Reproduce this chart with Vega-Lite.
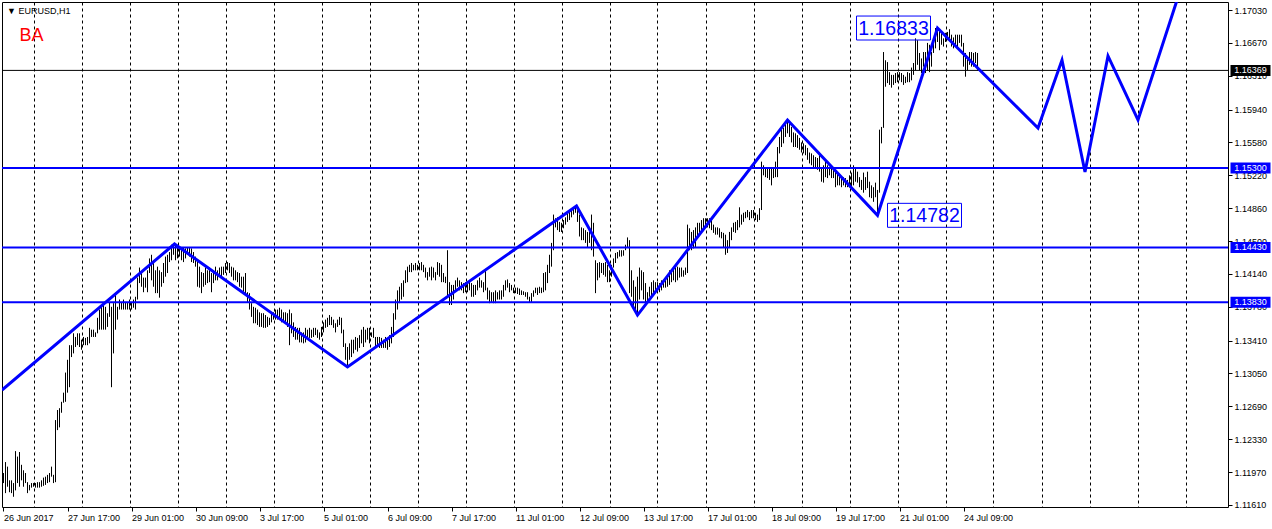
{
"$schema": "https://vega.github.io/schema/vega-lite/v6.json",
"width": 1226, "height": 505,
"autosize": {"type": "none"},
"padding": {"left": 2, "top": 2, "right": 44, "bottom": 22},
"background": "#FFFFFF",
"config": {"view": {"stroke": "#000000", "strokeWidth": 1}, "font": "Liberation Sans"},
"title": {"text": "▼ EURUSD,H1", "subtitle": "\u200b\u2002\u2009BA", "anchor": "start", "frame": "group", "orient": "top", "offset": 0, "dx": 5, "dy": 43, "font": "Liberation Sans", "fontSize": 9, "fontWeight": "normal", "color": "#000000", "subtitleFont": "Liberation Sans", "subtitleFontSize": 18, "subtitleColor": "#FF0000", "subtitlePadding": 11},
"datasets": {
"bars": [
{"i":0,"h":1.1196,"l":1.1185},{"i":1,"h":1.1208,"l":1.1174},{"i":2,"h":1.1203,"l":1.1181},{"i":3,"h":1.1188,"l":1.1175},{"i":4,"h":1.1188,"l":1.1174},{"i":5,"h":1.1185,"l":1.1170},{"i":6,"h":1.1220,"l":1.1177},{"i":7,"h":1.1214,"l":1.1185},{"i":8,"h":1.1219,"l":1.1181},{"i":9,"h":1.1205,"l":1.1188},
{"i":10,"h":1.1199,"l":1.1181},{"i":11,"h":1.1196,"l":1.1185},{"i":12,"h":1.1186,"l":1.1174},{"i":13,"h":1.1183,"l":1.1177},{"i":14,"h":1.1185,"l":1.1180},{"i":15,"h":1.1185,"l":1.1181},{"i":16,"h":1.1185,"l":1.1180},{"i":17,"h":1.1186,"l":1.1180},{"i":18,"h":1.1186,"l":1.1180},{"i":19,"h":1.1188,"l":1.1181},
{"i":20,"h":1.1191,"l":1.1182},{"i":21,"h":1.1192,"l":1.1183},{"i":22,"h":1.1194,"l":1.1185},{"i":23,"h":1.1196,"l":1.1186},{"i":24,"h":1.1203,"l":1.1192},{"i":25,"h":1.1194,"l":1.1185},{"i":26,"h":1.1254,"l":1.1186},{"i":27,"h":1.1265,"l":1.1243},{"i":28,"h":1.1267,"l":1.1246},{"i":29,"h":1.1274,"l":1.1262},
{"i":30,"h":1.1284,"l":1.1273},{"i":31,"h":1.1306,"l":1.1274},{"i":32,"h":1.1320,"l":1.1284},{"i":33,"h":1.1336,"l":1.1290},{"i":34,"h":1.1336,"l":1.1323},{"i":35,"h":1.1349,"l":1.1327},{"i":36,"h":1.1345,"l":1.1334},{"i":37,"h":1.1349,"l":1.1336},{"i":38,"h":1.1349,"l":1.1334},{"i":39,"h":1.1342,"l":1.1331},
{"i":40,"h":1.1345,"l":1.1336},{"i":41,"h":1.1344,"l":1.1336},{"i":42,"h":1.1345,"l":1.1336},{"i":43,"h":1.1355,"l":1.1338},{"i":44,"h":1.1353,"l":1.1345},{"i":45,"h":1.1353,"l":1.1345},{"i":46,"h":1.1350,"l":1.1345},{"i":47,"h":1.1366,"l":1.1349},{"i":48,"h":1.1375,"l":1.1353},{"i":49,"h":1.1378,"l":1.1353},
{"i":50,"h":1.1382,"l":1.1353},{"i":51,"h":1.1378,"l":1.1353},{"i":52,"h":1.1371,"l":1.1356},{"i":53,"h":1.1383,"l":1.1367},{"i":54,"h":1.1378,"l":1.1290},{"i":55,"h":1.1382,"l":1.1327},{"i":56,"h":1.1393,"l":1.1353},{"i":57,"h":1.1378,"l":1.1364},{"i":58,"h":1.1386,"l":1.1375},{"i":59,"h":1.1383,"l":1.1375},
{"i":60,"h":1.1386,"l":1.1375},{"i":61,"h":1.1383,"l":1.1375},{"i":62,"h":1.1383,"l":1.1375},{"i":63,"h":1.1386,"l":1.1375},{"i":64,"h":1.1383,"l":1.1375},{"i":65,"h":1.1386,"l":1.1377},{"i":66,"h":1.1389,"l":1.1375},{"i":67,"h":1.1410,"l":1.1386},{"i":68,"h":1.1421,"l":1.1404},{"i":69,"h":1.1415,"l":1.1400},
{"i":70,"h":1.1410,"l":1.1394},{"i":71,"h":1.1410,"l":1.1399},{"i":72,"h":1.1418,"l":1.1394},{"i":73,"h":1.1431,"l":1.1415},{"i":74,"h":1.1435,"l":1.1407},{"i":75,"h":1.1427,"l":1.1400},{"i":76,"h":1.1418,"l":1.1393},{"i":77,"h":1.1422,"l":1.1393},{"i":78,"h":1.1418,"l":1.1388},{"i":79,"h":1.1416,"l":1.1400},
{"i":80,"h":1.1426,"l":1.1404},{"i":81,"h":1.1433,"l":1.1411},{"i":82,"h":1.1435,"l":1.1415},{"i":83,"h":1.1438,"l":1.1427},{"i":84,"h":1.1446,"l":1.1429},{"i":85,"h":1.1447,"l":1.1435},{"i":86,"h":1.1446,"l":1.1429},{"i":87,"h":1.1443,"l":1.1431},{"i":88,"h":1.1443,"l":1.1433},{"i":89,"h":1.1442,"l":1.1429},
{"i":90,"h":1.1443,"l":1.1427},{"i":91,"h":1.1442,"l":1.1431},{"i":92,"h":1.1443,"l":1.1435},{"i":93,"h":1.1443,"l":1.1433},{"i":94,"h":1.1442,"l":1.1427},{"i":95,"h":1.1438,"l":1.1426},{"i":96,"h":1.1433,"l":1.1422},{"i":97,"h":1.1429,"l":1.1400},{"i":98,"h":1.1422,"l":1.1399},{"i":99,"h":1.1416,"l":1.1393},
{"i":100,"h":1.1415,"l":1.1400},{"i":101,"h":1.1421,"l":1.1402},{"i":102,"h":1.1418,"l":1.1404},{"i":103,"h":1.1421,"l":1.1405},{"i":104,"h":1.1415,"l":1.1394},{"i":105,"h":1.1418,"l":1.1404},{"i":106,"h":1.1422,"l":1.1407},{"i":107,"h":1.1418,"l":1.1407},{"i":108,"h":1.1421,"l":1.1411},{"i":109,"h":1.1422,"l":1.1411},
{"i":110,"h":1.1422,"l":1.1413},{"i":111,"h":1.1426,"l":1.1415},{"i":112,"h":1.1427,"l":1.1418},{"i":113,"h":1.1426,"l":1.1415},{"i":114,"h":1.1422,"l":1.1411},{"i":115,"h":1.1421,"l":1.1407},{"i":116,"h":1.1418,"l":1.1407},{"i":117,"h":1.1416,"l":1.1405},{"i":118,"h":1.1415,"l":1.1400},{"i":119,"h":1.1411,"l":1.1399},
{"i":120,"h":1.1411,"l":1.1393},{"i":121,"h":1.1415,"l":1.1391},{"i":122,"h":1.1394,"l":1.1383},{"i":123,"h":1.1393,"l":1.1375},{"i":124,"h":1.1382,"l":1.1367},{"i":125,"h":1.1378,"l":1.1360},{"i":126,"h":1.1377,"l":1.1360},{"i":127,"h":1.1375,"l":1.1358},{"i":128,"h":1.1372,"l":1.1356},{"i":129,"h":1.1371,"l":1.1356},
{"i":130,"h":1.1371,"l":1.1355},{"i":131,"h":1.1369,"l":1.1355},{"i":132,"h":1.1367,"l":1.1356},{"i":133,"h":1.1366,"l":1.1358},{"i":134,"h":1.1372,"l":1.1361},{"i":135,"h":1.1372,"l":1.1364},{"i":136,"h":1.1375,"l":1.1364},{"i":137,"h":1.1375,"l":1.1364},{"i":138,"h":1.1377,"l":1.1366},{"i":139,"h":1.1375,"l":1.1361},
{"i":140,"h":1.1372,"l":1.1361},{"i":141,"h":1.1372,"l":1.1360},{"i":142,"h":1.1371,"l":1.1356},{"i":143,"h":1.1375,"l":1.1336},{"i":144,"h":1.1371,"l":1.1349},{"i":145,"h":1.1361,"l":1.1345},{"i":146,"h":1.1356,"l":1.1342},{"i":147,"h":1.1355,"l":1.1342},{"i":148,"h":1.1355,"l":1.1339},{"i":149,"h":1.1350,"l":1.1339},
{"i":150,"h":1.1350,"l":1.1338},{"i":151,"h":1.1355,"l":1.1339},{"i":152,"h":1.1353,"l":1.1342},{"i":153,"h":1.1355,"l":1.1344},{"i":154,"h":1.1353,"l":1.1344},{"i":155,"h":1.1355,"l":1.1345},{"i":156,"h":1.1355,"l":1.1347},{"i":157,"h":1.1353,"l":1.1344},{"i":158,"h":1.1350,"l":1.1342},{"i":159,"h":1.1356,"l":1.1345},
{"i":160,"h":1.1361,"l":1.1350},{"i":161,"h":1.1364,"l":1.1355},{"i":162,"h":1.1366,"l":1.1356},{"i":163,"h":1.1369,"l":1.1358},{"i":164,"h":1.1367,"l":1.1358},{"i":165,"h":1.1364,"l":1.1355},{"i":166,"h":1.1360,"l":1.1350},{"i":167,"h":1.1364,"l":1.1356},{"i":168,"h":1.1367,"l":1.1358},{"i":169,"h":1.1366,"l":1.1349},
{"i":170,"h":1.1353,"l":1.1334},{"i":171,"h":1.1338,"l":1.1320},{"i":172,"h":1.1334,"l":1.1312},{"i":173,"h":1.1338,"l":1.1320},{"i":174,"h":1.1342,"l":1.1323},{"i":175,"h":1.1342,"l":1.1327},{"i":176,"h":1.1345,"l":1.1331},{"i":177,"h":1.1344,"l":1.1329},{"i":178,"h":1.1347,"l":1.1333},{"i":179,"h":1.1353,"l":1.1338},
{"i":180,"h":1.1356,"l":1.1334},{"i":181,"h":1.1353,"l":1.1339},{"i":182,"h":1.1355,"l":1.1342},{"i":183,"h":1.1355,"l":1.1338},{"i":184,"h":1.1350,"l":1.1345},{"i":185,"h":1.1355,"l":1.1344},{"i":186,"h":1.1345,"l":1.1334},{"i":187,"h":1.1345,"l":1.1334},{"i":188,"h":1.1345,"l":1.1333},{"i":189,"h":1.1344,"l":1.1333},
{"i":190,"h":1.1342,"l":1.1333},{"i":191,"h":1.1345,"l":1.1333},{"i":192,"h":1.1342,"l":1.1331},{"i":193,"h":1.1347,"l":1.1334},{"i":194,"h":1.1356,"l":1.1338},{"i":195,"h":1.1371,"l":1.1345},{"i":196,"h":1.1386,"l":1.1364},{"i":197,"h":1.1396,"l":1.1375},{"i":198,"h":1.1400,"l":1.1382},{"i":199,"h":1.1404,"l":1.1386},
{"i":200,"h":1.1407,"l":1.1389},{"i":201,"h":1.1418,"l":1.1404},{"i":202,"h":1.1422,"l":1.1405},{"i":203,"h":1.1424,"l":1.1416},{"i":204,"h":1.1426,"l":1.1416},{"i":205,"h":1.1424,"l":1.1418},{"i":206,"h":1.1426,"l":1.1418},{"i":207,"h":1.1424,"l":1.1418},{"i":208,"h":1.1426,"l":1.1418},{"i":209,"h":1.1427,"l":1.1418},
{"i":210,"h":1.1424,"l":1.1416},{"i":211,"h":1.1421,"l":1.1410},{"i":212,"h":1.1416,"l":1.1407},{"i":213,"h":1.1421,"l":1.1411},{"i":214,"h":1.1422,"l":1.1407},{"i":215,"h":1.1421,"l":1.1410},{"i":216,"h":1.1416,"l":1.1407},{"i":217,"h":1.1427,"l":1.1413},{"i":218,"h":1.1426,"l":1.1411},{"i":219,"h":1.1424,"l":1.1405},
{"i":220,"h":1.1415,"l":1.1405},{"i":221,"h":1.1411,"l":1.1404},{"i":222,"h":1.1440,"l":1.1389},{"i":223,"h":1.1405,"l":1.1380},{"i":224,"h":1.1402,"l":1.1380},{"i":225,"h":1.1402,"l":1.1386},{"i":226,"h":1.1407,"l":1.1396},{"i":227,"h":1.1410,"l":1.1400},{"i":228,"h":1.1407,"l":1.1396},{"i":229,"h":1.1405,"l":1.1396},
{"i":230,"h":1.1404,"l":1.1393},{"i":231,"h":1.1405,"l":1.1394},{"i":232,"h":1.1404,"l":1.1394},{"i":233,"h":1.1407,"l":1.1396},{"i":234,"h":1.1404,"l":1.1389},{"i":235,"h":1.1402,"l":1.1389},{"i":236,"h":1.1402,"l":1.1391},{"i":237,"h":1.1407,"l":1.1396},{"i":238,"h":1.1410,"l":1.1399},{"i":239,"h":1.1407,"l":1.1399},
{"i":240,"h":1.1405,"l":1.1394},{"i":241,"h":1.1418,"l":1.1396},{"i":242,"h":1.1399,"l":1.1386},{"i":243,"h":1.1396,"l":1.1382},{"i":244,"h":1.1394,"l":1.1383},{"i":245,"h":1.1394,"l":1.1382},{"i":246,"h":1.1396,"l":1.1382},{"i":247,"h":1.1394,"l":1.1386},{"i":248,"h":1.1396,"l":1.1386},{"i":249,"h":1.1396,"l":1.1386},
{"i":250,"h":1.1402,"l":1.1389},{"i":251,"h":1.1407,"l":1.1396},{"i":252,"h":1.1408,"l":1.1399},{"i":253,"h":1.1404,"l":1.1394},{"i":254,"h":1.1402,"l":1.1396},{"i":255,"h":1.1399,"l":1.1393},{"i":256,"h":1.1399,"l":1.1393},{"i":257,"h":1.1399,"l":1.1392},{"i":258,"h":1.1398,"l":1.1391},{"i":259,"h":1.1396,"l":1.1391},
{"i":260,"h":1.1395,"l":1.1391},{"i":261,"h":1.1394,"l":1.1389},{"i":262,"h":1.1394,"l":1.1386},{"i":263,"h":1.1389,"l":1.1383},{"i":264,"h":1.1393,"l":1.1383},{"i":265,"h":1.1396,"l":1.1389},{"i":266,"h":1.1399,"l":1.1393},{"i":267,"h":1.1399,"l":1.1391},{"i":268,"h":1.1400,"l":1.1393},{"i":269,"h":1.1399,"l":1.1393},
{"i":270,"h":1.1415,"l":1.1394},{"i":271,"h":1.1416,"l":1.1396},{"i":272,"h":1.1424,"l":1.1404},{"i":273,"h":1.1435,"l":1.1415},{"i":274,"h":1.1448,"l":1.1422},{"i":275,"h":1.1479,"l":1.1440},{"i":276,"h":1.1475,"l":1.1465},{"i":277,"h":1.1476,"l":1.1462},{"i":278,"h":1.1471,"l":1.1460},{"i":279,"h":1.1470,"l":1.1460},
{"i":280,"h":1.1473,"l":1.1464},{"i":281,"h":1.1476,"l":1.1468},{"i":282,"h":1.1481,"l":1.1471},{"i":283,"h":1.1482,"l":1.1473},{"i":284,"h":1.1486,"l":1.1476},{"i":285,"h":1.1487,"l":1.1479},{"i":286,"h":1.1488,"l":1.1481},{"i":287,"h":1.1487,"l":1.1471},{"i":288,"h":1.1479,"l":1.1455},{"i":289,"h":1.1465,"l":1.1451},
{"i":290,"h":1.1464,"l":1.1451},{"i":291,"h":1.1462,"l":1.1448},{"i":292,"h":1.1460,"l":1.1443},{"i":293,"h":1.1460,"l":1.1448},{"i":294,"h":1.1479,"l":1.1440},{"i":295,"h":1.1470,"l":1.1433},{"i":296,"h":1.1429,"l":1.1393},{"i":297,"h":1.1426,"l":1.1407},{"i":298,"h":1.1427,"l":1.1410},{"i":299,"h":1.1426,"l":1.1415},
{"i":300,"h":1.1426,"l":1.1413},{"i":301,"h":1.1427,"l":1.1411},{"i":302,"h":1.1424,"l":1.1405},{"i":303,"h":1.1418,"l":1.1405},{"i":304,"h":1.1424,"l":1.1411},{"i":305,"h":1.1431,"l":1.1421},{"i":306,"h":1.1437,"l":1.1426},{"i":307,"h":1.1438,"l":1.1431},{"i":308,"h":1.1440,"l":1.1433},{"i":309,"h":1.1440,"l":1.1433},
{"i":310,"h":1.1440,"l":1.1434},{"i":311,"h":1.1446,"l":1.1440},{"i":312,"h":1.1454,"l":1.1443},{"i":313,"h":1.1451,"l":1.1393},{"i":314,"h":1.1418,"l":1.1389},{"i":315,"h":1.1407,"l":1.1378},{"i":316,"h":1.1400,"l":1.1371},{"i":317,"h":1.1411,"l":1.1369},{"i":318,"h":1.1421,"l":1.1386},{"i":319,"h":1.1418,"l":1.1396},
{"i":320,"h":1.1416,"l":1.1386},{"i":321,"h":1.1404,"l":1.1382},{"i":322,"h":1.1394,"l":1.1383},{"i":323,"h":1.1400,"l":1.1389},{"i":324,"h":1.1405,"l":1.1389},{"i":325,"h":1.1407,"l":1.1393},{"i":326,"h":1.1405,"l":1.1394},{"i":327,"h":1.1405,"l":1.1394},{"i":328,"h":1.1404,"l":1.1394},{"i":329,"h":1.1407,"l":1.1396},
{"i":330,"h":1.1405,"l":1.1399},{"i":331,"h":1.1410,"l":1.1399},{"i":332,"h":1.1413,"l":1.1400},{"i":333,"h":1.1418,"l":1.1402},{"i":334,"h":1.1416,"l":1.1405},{"i":335,"h":1.1421,"l":1.1407},{"i":336,"h":1.1421,"l":1.1405},{"i":337,"h":1.1422,"l":1.1407},{"i":338,"h":1.1421,"l":1.1410},{"i":339,"h":1.1421,"l":1.1411},
{"i":340,"h":1.1418,"l":1.1411},{"i":341,"h":1.1421,"l":1.1413},{"i":342,"h":1.1468,"l":1.1415},{"i":343,"h":1.1464,"l":1.1440},{"i":344,"h":1.1460,"l":1.1440},{"i":345,"h":1.1462,"l":1.1442},{"i":346,"h":1.1465,"l":1.1443},{"i":347,"h":1.1470,"l":1.1454},{"i":348,"h":1.1470,"l":1.1459},{"i":349,"h":1.1473,"l":1.1460},
{"i":350,"h":1.1475,"l":1.1464},{"i":351,"h":1.1475,"l":1.1465},{"i":352,"h":1.1475,"l":1.1465},{"i":353,"h":1.1475,"l":1.1464},{"i":354,"h":1.1473,"l":1.1462},{"i":355,"h":1.1468,"l":1.1459},{"i":356,"h":1.1465,"l":1.1457},{"i":357,"h":1.1465,"l":1.1457},{"i":358,"h":1.1464,"l":1.1454},{"i":359,"h":1.1460,"l":1.1453},
{"i":360,"h":1.1459,"l":1.1443},{"i":361,"h":1.1457,"l":1.1435},{"i":362,"h":1.1451,"l":1.1437},{"i":363,"h":1.1460,"l":1.1443},{"i":364,"h":1.1465,"l":1.1451},{"i":365,"h":1.1470,"l":1.1460},{"i":366,"h":1.1471,"l":1.1459},{"i":367,"h":1.1473,"l":1.1462},{"i":368,"h":1.1487,"l":1.1465},{"i":369,"h":1.1479,"l":1.1468},
{"i":370,"h":1.1481,"l":1.1471},{"i":371,"h":1.1482,"l":1.1475},{"i":372,"h":1.1484,"l":1.1476},{"i":373,"h":1.1482,"l":1.1473},{"i":374,"h":1.1484,"l":1.1475},{"i":375,"h":1.1484,"l":1.1475},{"i":376,"h":1.1481,"l":1.1473},{"i":377,"h":1.1479,"l":1.1471},{"i":378,"h":1.1486,"l":1.1473},{"i":379,"h":1.1537,"l":1.1484},
{"i":380,"h":1.1533,"l":1.1522},{"i":381,"h":1.1531,"l":1.1520},{"i":382,"h":1.1531,"l":1.1519},{"i":383,"h":1.1530,"l":1.1517},{"i":384,"h":1.1530,"l":1.1511},{"i":385,"h":1.1531,"l":1.1519},{"i":386,"h":1.1537,"l":1.1520},{"i":387,"h":1.1553,"l":1.1520},{"i":388,"h":1.1564,"l":1.1546},{"i":389,"h":1.1572,"l":1.1553},
{"i":390,"h":1.1574,"l":1.1557},{"i":391,"h":1.1579,"l":1.1564},{"i":392,"h":1.1583,"l":1.1568},{"i":393,"h":1.1579,"l":1.1564},{"i":394,"h":1.1575,"l":1.1558},{"i":395,"h":1.1569,"l":1.1553},{"i":396,"h":1.1568,"l":1.1553},{"i":397,"h":1.1566,"l":1.1552},{"i":398,"h":1.1563,"l":1.1550},{"i":399,"h":1.1558,"l":1.1547},
{"i":400,"h":1.1557,"l":1.1546},{"i":401,"h":1.1555,"l":1.1544},{"i":402,"h":1.1552,"l":1.1539},{"i":403,"h":1.1547,"l":1.1535},{"i":404,"h":1.1546,"l":1.1533},{"i":405,"h":1.1544,"l":1.1531},{"i":406,"h":1.1542,"l":1.1530},{"i":407,"h":1.1541,"l":1.1528},{"i":408,"h":1.1547,"l":1.1526},{"i":409,"h":1.1531,"l":1.1515},
{"i":410,"h":1.1533,"l":1.1514},{"i":411,"h":1.1537,"l":1.1520},{"i":412,"h":1.1533,"l":1.1519},{"i":413,"h":1.1531,"l":1.1522},{"i":414,"h":1.1530,"l":1.1519},{"i":415,"h":1.1528,"l":1.1519},{"i":416,"h":1.1526,"l":1.1509},{"i":417,"h":1.1525,"l":1.1511},{"i":418,"h":1.1522,"l":1.1511},{"i":419,"h":1.1520,"l":1.1509},
{"i":420,"h":1.1520,"l":1.1511},{"i":421,"h":1.1519,"l":1.1509},{"i":422,"h":1.1517,"l":1.1509},{"i":423,"h":1.1522,"l":1.1509},{"i":424,"h":1.1525,"l":1.1509},{"i":425,"h":1.1533,"l":1.1511},{"i":426,"h":1.1530,"l":1.1515},{"i":427,"h":1.1526,"l":1.1514},{"i":428,"h":1.1520,"l":1.1509},{"i":429,"h":1.1517,"l":1.1506},
{"i":430,"h":1.1525,"l":1.1503},{"i":431,"h":1.1520,"l":1.1506},{"i":432,"h":1.1526,"l":1.1508},{"i":433,"h":1.1515,"l":1.1498},{"i":434,"h":1.1511,"l":1.1497},{"i":435,"h":1.1509,"l":1.1493},{"i":436,"h":1.1514,"l":1.1498},{"i":437,"h":1.1506,"l":1.14782},{"i":438,"h":1.1572,"l":1.1503},{"i":439,"h":1.1575,"l":1.1557},
{"i":440,"h":1.1657,"l":1.1574},{"i":441,"h":1.1648,"l":1.1619},{"i":442,"h":1.1646,"l":1.1623},{"i":443,"h":1.1635,"l":1.1621},{"i":444,"h":1.1632,"l":1.1618},{"i":445,"h":1.1632,"l":1.1621},{"i":446,"h":1.1634,"l":1.1623},{"i":447,"h":1.1635,"l":1.1624},{"i":448,"h":1.1635,"l":1.1626},{"i":449,"h":1.1634,"l":1.1624},
{"i":450,"h":1.1632,"l":1.1621},{"i":451,"h":1.1630,"l":1.1623},{"i":452,"h":1.1635,"l":1.1624},{"i":453,"h":1.1634,"l":1.1624},{"i":454,"h":1.1640,"l":1.1626},{"i":455,"h":1.1645,"l":1.1632},{"i":456,"h":1.1672,"l":1.1637},{"i":457,"h":1.1670,"l":1.1643},{"i":458,"h":1.1656,"l":1.1637},{"i":459,"h":1.1650,"l":1.1634},
{"i":460,"h":1.1657,"l":1.1641},{"i":461,"h":1.1657,"l":1.1634},{"i":462,"h":1.1667,"l":1.1637},{"i":463,"h":1.1665,"l":1.1635},{"i":464,"h":1.1657,"l":1.1641},{"i":465,"h":1.1672,"l":1.1656},{"i":466,"h":1.16833,"l":1.1661},{"i":467,"h":1.16833,"l":1.1668},{"i":468,"h":1.1681,"l":1.1659},{"i":469,"h":1.1678,"l":1.1665},
{"i":470,"h":1.1672,"l":1.1663},{"i":471,"h":1.1678,"l":1.1668},{"i":472,"h":1.1679,"l":1.1670},{"i":473,"h":1.1682,"l":1.1672},{"i":474,"h":1.1676,"l":1.1663},{"i":475,"h":1.1673,"l":1.1661},{"i":476,"h":1.1676,"l":1.1665},{"i":477,"h":1.1676,"l":1.1661},{"i":478,"h":1.1676,"l":1.1667},{"i":479,"h":1.1676,"l":1.1663},
{"i":480,"h":1.1667,"l":1.1641},{"i":481,"h":1.1656,"l":1.1630},{"i":482,"h":1.1652,"l":1.1637},{"i":483,"h":1.1657,"l":1.1643},{"i":484,"h":1.1657,"l":1.1641},{"i":485,"h":1.1656,"l":1.1641},{"i":486,"h":1.1657,"l":1.1645},{"i":487,"h":1.1656,"l":1.16369}
],
"levels": [{"p":1.16369,"kind":"bid"},{"p":1.153,"kind":"level"},{"p":1.1443,"kind":"level"},{"p":1.1383,"kind":"level"}],
"zigzag": [{"i":-0.75,"p":1.12869},{"i":85.5,"p":1.14468},{"i":172,"p":1.13121},{"i":286.5,"p":1.14884},{"i":317,"p":1.1369},{"i":392,"p":1.15826},{"i":437,"p":1.14782},{"i":467,"p":1.16833},{"i":517.25,"p":1.15738},{"i":529.25,"p":1.16483},{"i":540.75,"p":1.15257},{"i":552.25,"p":1.16527},{"i":567.25,"p":1.15826},{"i":590,"p":1.17356}],
"pivots": [{"i":467,"p":1.16833,"side":"left"},{"i":437,"p":1.14782,"side":"right"}]
},
"layer": [
{"data": {"name": "bars"}, "mark": {"type": "rule", "color": "#000000", "strokeWidth": 1},
 "encoding": {
  "x": {"field": "i", "type": "quantitative", "scale": {"domain": [-0.75, 612.25], "nice": false, "zero": false},
   "axis": {"orient": "bottom", "title": null, "domain": false, "tickCount": 200, "values": [0,15,32,39,63,64,87,96,111,128,135,159,160,183,192,207,224,231,255,256,279,288,303,320,327,351,352,375,384,399,416,423,447,448,471,480,495,519,543,567,591],
    "labelExpr": "datum.value % 32 === 0 ? ['26 Jun 2017','27 Jun 17:00','29 Jun 01:00','30 Jun 09:00','3 Jul 17:00','5 Jul 01:00','6 Jul 09:00','7 Jul 17:00','11 Jul 01:00','12 Jul 09:00','13 Jul 17:00','17 Jul 01:00','18 Jul 09:00','19 Jul 17:00','21 Jul 01:00','24 Jul 09:00'][datum.value / 32] : ''",
    "labelAlign": "left", "labelFont": "Liberation Sans", "labelFontSize": 9, "labelColor": "#000000", "labelPadding": 2, "labelOverlap": false, "labelFlush": false, "labelBound": false,
    "ticks": true, "tickSize": 4, "tickColor": "#000000", "tickOpacity": {"condition": {"test": "datum.value % 32 === 0", "value": 1}, "value": 0},
    "grid": true, "gridColor": "#000000", "gridDash": [3, 3], "gridWidth": 1, "gridOpacity": {"condition": {"test": "(datum.value - 15) % 24 === 0", "value": 1}, "value": 0}}},
  "y": {"field": "l", "type": "quantitative", "scale": {"domain": [1.11588, 1.17118], "nice": false, "zero": false},
   "axis": {"orient": "right", "title": null, "domain": false, "grid": false, "tickCount": 200, "values": [1.1703,1.1667,1.1631,1.1594,1.1558,1.1522,1.1486,1.145,1.1414,1.1378,1.1341,1.1305,1.1269,1.1233,1.1197,1.1161], "format": ".5f",
    "labelFont": "Liberation Sans", "labelFontSize": 9, "labelColor": "#000000", "labelPadding": 2, "labelOverlap": false, "labelFlush": false, "labelBound": false, "tickSize": 4, "tickColor": "#000000"}},
  "y2": {"field": "h"}
 }},
{"data": {"name": "levels"}, "transform": [{"filter": "datum.kind === 'bid'"}], "mark": {"type": "rule", "color": "#000000", "strokeWidth": 1},
 "encoding": {"y": {"field": "p", "type": "quantitative", "scale": {"domain": [1.11588, 1.17118], "nice": false, "zero": false}}}},
{"data": {"name": "levels"}, "transform": [{"filter": "datum.kind === 'level'"}], "mark": {"type": "rule", "color": "#0000FF", "strokeWidth": 2},
 "encoding": {"y": {"field": "p", "type": "quantitative", "scale": {"domain": [1.11588, 1.17118], "nice": false, "zero": false}}}},
{"data": {"name": "zigzag"}, "mark": {"type": "line", "color": "#0000FF", "strokeWidth": 3, "clip": true},
 "encoding": {"x": {"field": "i", "type": "quantitative", "scale": {"domain": [-0.75, 612.25], "nice": false, "zero": false}},
  "y": {"field": "p", "type": "quantitative", "scale": {"domain": [1.11588, 1.17118], "nice": false, "zero": false}}}},
{"data": {"name": "pivots"}, "transform": [{"filter": "datum.side === 'left'"}],
 "mark": {"type": "point", "shape": "M-1,-0.324L1,-0.324L1,0.324L-1,0.324Z", "size": 5476, "filled": false, "stroke": "#0000FF", "strokeWidth": 1, "opacity": 1, "xOffset": -44},
 "encoding": {"x": {"field": "i", "type": "quantitative", "scale": {"domain": [-0.75, 612.25], "nice": false, "zero": false}},
  "y": {"field": "p", "type": "quantitative", "scale": {"domain": [1.11588, 1.17118], "nice": false, "zero": false}}}},
{"data": {"name": "pivots"}, "transform": [{"filter": "datum.side === 'left'"}],
 "mark": {"type": "text", "font": "Liberation Sans", "fontSize": 19.5, "color": "#0000FF", "align": "center", "baseline": "middle", "dx": -44, "dy": 1},
 "encoding": {"x": {"field": "i", "type": "quantitative", "scale": {"domain": [-0.75, 612.25], "nice": false, "zero": false}},
  "y": {"field": "p", "type": "quantitative", "scale": {"domain": [1.11588, 1.17118], "nice": false, "zero": false}},
  "text": {"field": "p", "type": "quantitative", "format": ".5f"}}},
{"data": {"name": "pivots"}, "transform": [{"filter": "datum.side === 'right'"}],
 "mark": {"type": "point", "shape": "M-1,-0.324L1,-0.324L1,0.324L-1,0.324Z", "size": 5476, "filled": false, "stroke": "#0000FF", "strokeWidth": 1, "opacity": 1, "xOffset": 47},
 "encoding": {"x": {"field": "i", "type": "quantitative", "scale": {"domain": [-0.75, 612.25], "nice": false, "zero": false}},
  "y": {"field": "p", "type": "quantitative", "scale": {"domain": [1.11588, 1.17118], "nice": false, "zero": false}}}},
{"data": {"name": "pivots"}, "transform": [{"filter": "datum.side === 'right'"}],
 "mark": {"type": "text", "font": "Liberation Sans", "fontSize": 19.5, "color": "#0000FF", "align": "center", "baseline": "middle", "dx": 47, "dy": 1},
 "encoding": {"x": {"field": "i", "type": "quantitative", "scale": {"domain": [-0.75, 612.25], "nice": false, "zero": false}},
  "y": {"field": "p", "type": "quantitative", "scale": {"domain": [1.11588, 1.17118], "nice": false, "zero": false}},
  "text": {"field": "p", "type": "quantitative", "format": ".5f"}}},
{"data": {"name": "levels"}, "mark": {"type": "point", "shape": "M-1,-0.275L1,-0.275L1,0.275L-1,0.275Z", "size": 1600, "filled": true, "opacity": 1},
 "encoding": {"x": {"datum": 623.5, "type": "quantitative", "scale": {"domain": [-0.75, 612.25], "nice": false, "zero": false}},
  "y": {"field": "p", "type": "quantitative", "scale": {"domain": [1.11588, 1.17118], "nice": false, "zero": false}},
  "color": {"field": "kind", "type": "nominal", "scale": {"domain": ["bid", "level"], "range": ["#000000", "#0000FF"]}, "legend": null}}},
{"data": {"name": "levels"}, "mark": {"type": "text", "font": "Liberation Sans", "fontSize": 9, "color": "#FFFFFF", "align": "center", "baseline": "middle"},
 "encoding": {"x": {"datum": 623.5, "type": "quantitative", "scale": {"domain": [-0.75, 612.25], "nice": false, "zero": false}},
  "y": {"field": "p", "type": "quantitative", "scale": {"domain": [1.11588, 1.17118], "nice": false, "zero": false}},
  "text": {"field": "p", "type": "quantitative", "format": ".5f"}}}
]
}
